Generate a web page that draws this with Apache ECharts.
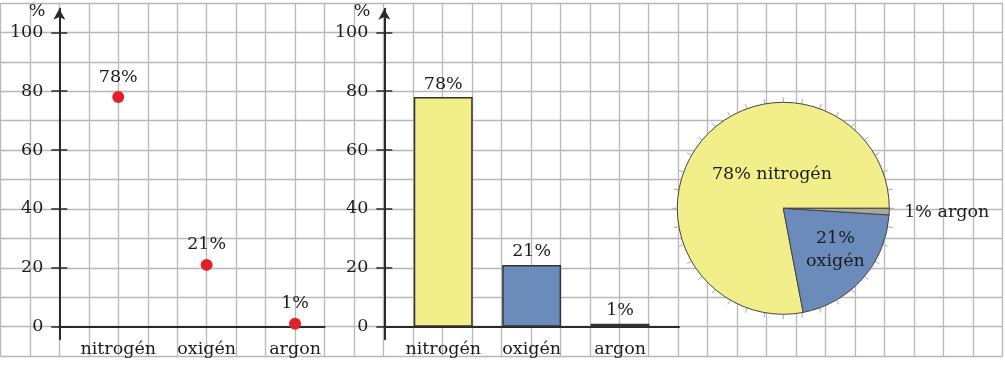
<!DOCTYPE html>
<html><head><meta charset="utf-8">
<script src="https://cdn.jsdelivr.net/npm/echarts@6/dist/echarts.min.js"></script>
<style>html,body{margin:0;padding:0;background:#fff}#c{width:1005px;height:366px}</style>
</head><body><div id="c"></div>
<script>
// ---- data ----
const categories = ['nitrogén', 'oxigén', 'argon'];
const percents = [78, 21, 1];
const yTickValues = [0, 20, 40, 60, 80, 100];

// ---- layout / style (not data) ----
const FONT = 'DejaVu Serif';
const CX = 29.47, CY = 29.44, Y0 = 326.7, PX = CY / 10;
const YMAX = 108, YMIN = -4.28;
const plotTop = Y0 - YMAX * PX;
const plotH = (YMAX - YMIN) * PX;
const barColors = ['#f2ef8b', '#6b8cbb', '#9a9a9a'];
const pieColors = ['#f2ef8b', '#6b8cbb', '#a8a798'];
const pieCenter = [783.3, 208.3], pieR = 106;
const pieLabelOffsets = [[31.8, 1.5], [10.1, 4.2], [107.5, 2.5]];
const pieLabelSep = [' ', '\n', ' '];
const txt = { fontFamily: FONT, fontSize: 17.5, color: '#1c1c1c' };
const axisColor = '#2a2a2a';

const catPos = i => 2 + 3 * i;
const catLabel = v => { const i = (v - 2) / 3; return (Number.isInteger(i) && categories[i]) ? categories[i] : ''; };

function mainY(grid) {
  return {
    gridIndex: grid, type: 'value', min: YMIN, max: YMAX, position: 'left',
    name: '%', nameLocation: 'end', nameGap: -2.5,
    nameTextStyle: Object.assign({ align: 'right', verticalAlign: 'middle', padding: [0, 14, 0, 0] }, txt),
    axisLine: { show: true, symbol: ['none', 'arrow'], symbolSize: [9, 11], lineStyle: { color: axisColor, width: 2 } },
    axisTick: { show: true, inside: false, length: 8, customValues: yTickValues, lineStyle: { color: axisColor, width: 1.5 } },
    axisLabel: Object.assign({ show: true, margin: 16, customValues: yTickValues }, txt),
    splitLine: { show: false }
  };
}
function innerY(grid) {
  return {
    gridIndex: grid, type: 'value', min: YMIN, max: YMAX, position: 'left',
    axisLine: { show: false },
    axisTick: { show: true, inside: true, length: 8, customValues: yTickValues, lineStyle: { color: axisColor, width: 1.5 } },
    axisLabel: { show: false }, splitLine: { show: false }
  };
}
function catX(grid, max) {
  return {
    gridIndex: grid, type: 'value', min: 0, max: max, interval: 1,
    axisLine: { show: true, onZero: true, lineStyle: { color: axisColor, width: 2 } },
    axisTick: { show: false },
    axisLabel: Object.assign({ show: true, margin: 1, formatter: catLabel, showMinLabel: true, showMaxLabel: true }, txt),
    splitLine: { show: false }
  };
}

const option = {
  animation: false,
  backgroundColor: '#fff',
  grid: [
    { left: 0.4, top: 2.9, width: 34 * CX, height: 12 * CY, outerBoundsMode: 'none', z: 0 },
    { left: 59.3, top: plotTop, width: 9 * CX, height: plotH, outerBoundsMode: 'none' },
    { left: 384.3, top: plotTop, width: 10 * CX, height: plotH, outerBoundsMode: 'none' }
  ],
  xAxis: [
    { gridIndex: 0, type: 'value', min: 0, max: 34, interval: 1, z: 0,
      axisLine: { show: false }, axisTick: { show: false }, axisLabel: { show: false },
      splitLine: { show: true, lineStyle: { color: '#b8b8b8', width: 1.3 } } },
    catX(1, 9),
    catX(2, 10)
  ],
  yAxis: [
    { gridIndex: 0, type: 'value', min: 0, max: 12, interval: 1, z: 0,
      axisLine: { show: false }, axisTick: { show: false }, axisLabel: { show: false },
      splitLine: { show: true, lineStyle: { color: '#b8b8b8', width: 1.3 } } },
    mainY(1), innerY(1), mainY(2), innerY(2)
  ],
  polar: { center: pieCenter, radius: pieR },
  angleAxis: {
    type: 'value', min: 0, max: 360, interval: 10, startAngle: 0,
    axisLine: { show: false },
    axisTick: { show: true, length: 5, lineStyle: { color: '#a8a8a8', width: 1 } },
    axisLabel: { show: false }, splitLine: { show: false }
  },
  radiusAxis: { show: false, min: 0, max: 1 },
  series: [
    {
      type: 'scatter', xAxisIndex: 1, yAxisIndex: 1, symbolSize: 12,
      itemStyle: { color: '#e3202a', opacity: 1 },
      data: percents.map((v, i) => [catPos(i), v]),
      label: Object.assign({ show: true, position: 'top', distance: 5, formatter: p => p.value[1] + '%' }, txt),
      emphasis: { disabled: true }
    },
    {
      type: 'bar', xAxisIndex: 2, yAxisIndex: 3, barWidth: 2 * CX,
      data: percents.map((v, i) => [catPos(i), v]),
      itemStyle: { color: p => barColors[p.dataIndex], borderColor: '#333', borderWidth: 1.5 },
      label: Object.assign({ show: true, position: 'top', distance: 4, formatter: p => p.value[1] + '%' }, txt),
      emphasis: { disabled: true }
    },
    {
      type: 'pie', center: pieCenter, radius: pieR, startAngle: 0, clockwise: false,
      avoidLabelOverlap: false, labelLine: { show: false },
      itemStyle: { borderColor: '#444', borderWidth: 1 },
      emphasis: { disabled: true },
      data: categories.map((c, i) => ({
        name: c, value: percents[i],
        itemStyle: { color: pieColors[i] },
        label: Object.assign({ show: true, position: 'inside', offset: pieLabelOffsets[i], lineHeight: 23,
          formatter: percents[i] + '%' + pieLabelSep[i] + c }, txt)
      }))
    }
  ]
};
const chart = echarts.init(document.getElementById('c'), null, { renderer: 'canvas' });
chart.setOption(option);
</script></body></html>
